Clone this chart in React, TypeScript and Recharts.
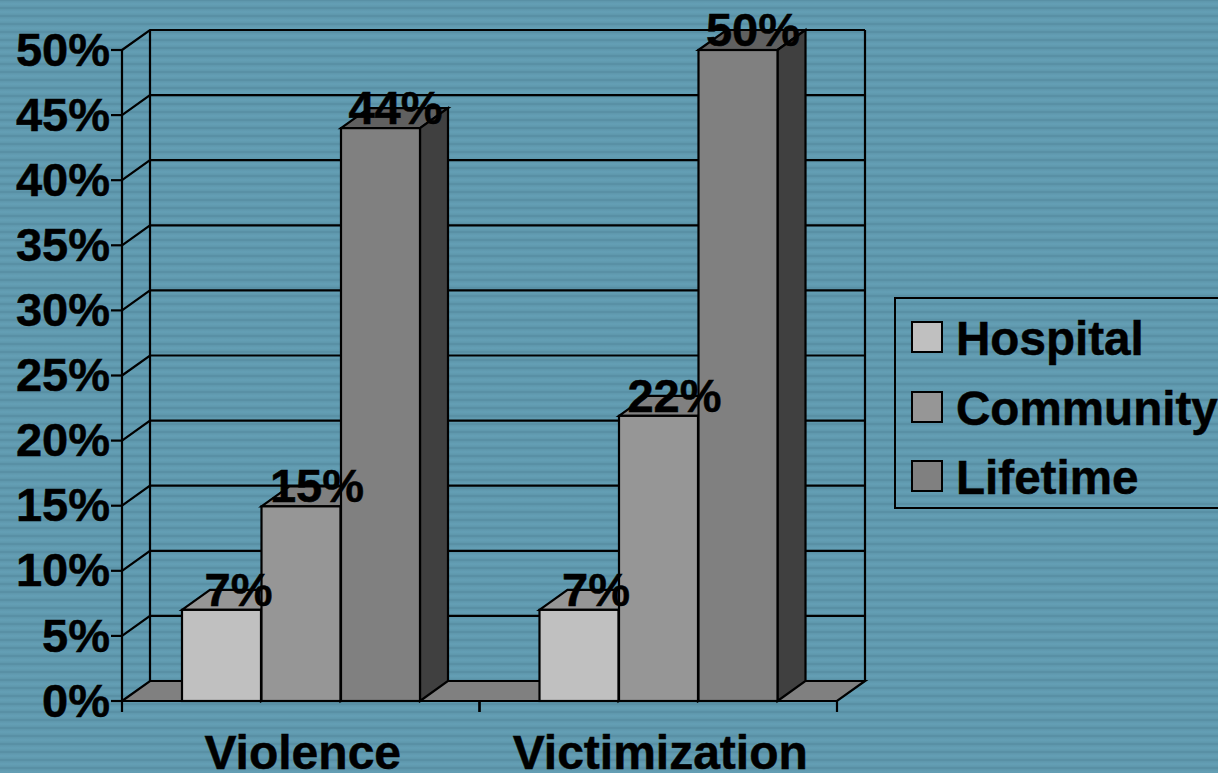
import {Bar, BarChart, CartesianGrid, LabelList, Legend, XAxis, YAxis} from "recharts";

const categories = ["Violence", "Victimization"];
const hospital = [7, 7];
const community = [14.95, 21.9];
const lifetime = [44, 50];
const valueLabels = {hospital: ["7%", "7%"], community: ["15%", "22%"], lifetime: ["44%", "50%"]};
const yTicks = [0, 5, 10, 15, 20, 25, 30, 35, 40, 45, 50];

const data = categories.map((name, i) => ({
    name,
    hospital: hospital[i],
    community: community[i],
    lifetime: lifetime[i],
}));

const DX = 28;
const DY = -20;
const FONT = "'Liberation Sans', Arial, sans-serif";
const LINE = 2.2;

const colors = {
    hospital: {front: "#c0c0c0", top: "#969696", side: "#606060", labelDx: 17},
    community: {front: "#969696", top: "#808080", side: "#4b4b4b", labelDx: 16},
    lifetime: {front: "#808080", top: "#606060", side: "#404040", labelDx: 15},
};

// floor + back wall line for each horizontal grid line
const DepthLine = ({x1, x2, y1, y, height, index}: any) => {
    const isFloor = Math.abs(y1 - (y + height)) < 1;
    const isTop = Math.abs(y1 - y) < 1;
    return (
        <g key={index}>
            {isFloor && (
                <polygon
                    points={`${x1},${y1} ${x1 + DX},${y1 + DY} ${x2 + DX},${y1 + DY} ${x2},${y1}`}
                    fill="#808080"
                    stroke="#000"
                    strokeWidth={LINE}
                />
            )}
            {!isFloor && <polyline points={`${x1},${y1} ${x1 + DX},${y1 + DY} ${x2 + DX},${y1 + DY}`} fill="none" stroke="#000" strokeWidth={LINE}/>}
            {isTop && (
                <>
                    <line x1={x1 + DX} y1={y1 + DY} x2={x1 + DX} y2={y + height + DY} stroke="#000" strokeWidth={LINE}/>
                    <line x1={x2 + DX} y1={y1 + DY} x2={x2 + DX} y2={y + height + DY} stroke="#000" strokeWidth={LINE}/>
                </>
            )}
        </g>
    );
};

const Bar3D = (props: any) => {
    const {x, y, width, height, tone} = props;
    const c = colors[tone as keyof typeof colors];
    const r = x + width;
    const b = y + height;
    return (
        <g stroke="#000" strokeWidth={LINE} strokeLinejoin="miter">
            <polygon points={`${x},${y} ${x + DX},${y + DY} ${r + DX},${y + DY} ${r},${y}`} fill={c.top}/>
            <polygon points={`${r},${y} ${r + DX},${y + DY} ${r + DX},${b + DY} ${r},${b}`} fill={c.side}/>
            <rect x={x} y={y} width={width} height={height} fill={c.front}/>
        </g>
    );
};

const ValueLabel = (props: any) => {
    const {x, y, width, index, tone} = props;
    return (
        <text
            x={x + width / 2 + colors[tone as keyof typeof colors].labelDx}
            y={y - 4}
            textAnchor="middle"
            fontFamily={FONT}
            fontWeight="bold"
            fontSize={47}
            fill="#000"
            stroke="#000"
            strokeWidth={0.5}
        >
            {valueLabels[tone as keyof typeof valueLabels][index]}
        </text>
    );
};

const CategoryTick = ({x, y, payload}: any) => {
    const half = 357.5 / 2;
    return (
        <g>
            <line x1={x - half} y1={y - 8} x2={x - half} y2={y + 3} stroke="#000" strokeWidth={LINE}/>
            <line x1={x + half} y1={y - 8} x2={x + half} y2={y + 3} stroke="#000" strokeWidth={LINE}/>
            <text x={x + 2} y={y + 60} textAnchor="middle" fontFamily={FONT} fontWeight="bold" fontSize={48} fill="#000" stroke="#000" strokeWidth={0.5}>
                {payload.value}
            </text>
        </g>
    );
};

const ChartLegend = ({payload}: any) => (
    <div style={{
        boxSizing: "border-box",
        width: 340,
        height: 212,
        border: "2px solid #000",
        paddingTop: 5,
        fontFamily: FONT,
        fontWeight: "bold",
        fontSize: 47.6,
        color: "#000",
        WebkitTextStroke: "0.5px #000",
    }}>
        {(payload || []).map((p: any) => (
            <div key={p.value} style={{display: "flex", alignItems: "center", height: 69.5, paddingLeft: 15}}>
                <span style={{
                    boxSizing: "border-box",
                    width: 32,
                    height: 32,
                    border: "2px solid #000",
                    background: p.color,
                    marginRight: 13,
                    marginTop: -3,
                }}/>
                {p.value}
            </div>
        ))}
    </div>
);

const App = () => {
    return (
        <div style={{
            position: "absolute",
            left: 0,
            top: 0,
            width: 1218,
            height: 773,
            overflow: "hidden",
            background: "repeating-linear-gradient(180deg, #568ca1 0px, #5f98ad 1.5px, #649fb5 4px, #5f98ad 6.5px, #568ca1 8px)",
        }}>
            <BarChart
                width={1218}
                height={773}
                data={data}
                barSize={79}
                barGap={0.5}
                margin={{top: 50, right: 381, left: 0, bottom: 0}}
            >
                <CartesianGrid vertical={false} horizontal={(p: any) => <DepthLine {...p}/>}/>
                <XAxis
                    dataKey="name"
                    height={72}
                    tickLine={false}
                    tick={<CategoryTick/>}
                    axisLine={{stroke: "#000", strokeWidth: LINE}}
                    interval={0}
                />
                <YAxis
                    width={122}
                    domain={[0, 50]}
                    ticks={yTicks}
                    tickFormatter={(v: number) => `${v}%`}
                    tickSize={11}
                    tickMargin={1}
                    dy={-1}
                    tick={{fill: "#000", stroke: "#000", strokeWidth: 0.5, fontFamily: FONT, fontWeight: "bold", fontSize: 47}}
                    tickLine={{stroke: "#000", strokeWidth: LINE}}
                    axisLine={{stroke: "#000", strokeWidth: LINE}}
                    interval={0}
                />
                <Legend
                    layout="vertical"
                    align="center"
                    verticalAlign="middle"
                    itemSorter={null}
                    content={<ChartLegend/>}
                    wrapperStyle={{left: 894, top: 297, width: 340, bottom: "auto", right: "auto"}}
                />
                <Bar name="Hospital" dataKey="hospital" fill={colors.hospital.front} isAnimationActive={false} shape={<Bar3D tone="hospital"/>}>
                    <LabelList dataKey="hospital" content={<ValueLabel tone="hospital"/>}/>
                </Bar>
                <Bar name="Community" dataKey="community" fill={colors.community.front} isAnimationActive={false} shape={<Bar3D tone="community"/>}>
                    <LabelList dataKey="community" content={<ValueLabel tone="community"/>}/>
                </Bar>
                <Bar name="Lifetime" dataKey="lifetime" fill={colors.lifetime.front} isAnimationActive={false} shape={<Bar3D tone="lifetime"/>}>
                    <LabelList dataKey="lifetime" content={<ValueLabel tone="lifetime"/>}/>
                </Bar>
            </BarChart>
        </div>
    );
};

export default App;
